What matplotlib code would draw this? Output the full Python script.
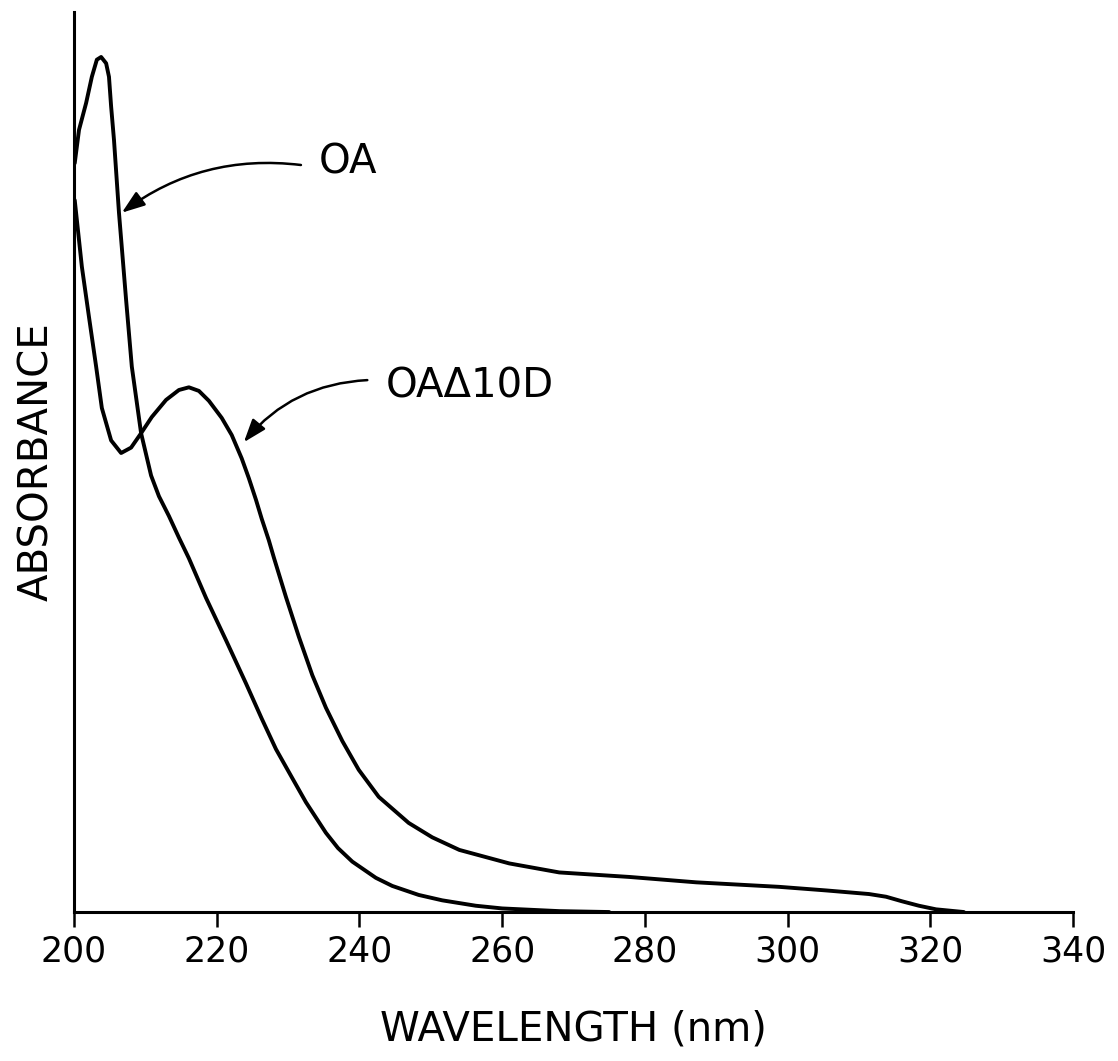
import numpy as np
import matplotlib
matplotlib.use("Agg")
import matplotlib.pyplot as plt

# wavelengths (nm) and absorbance (arbitrary units)
oa_nm = [200.1, 200.7, 201.7, 202.5, 203.2, 203.8, 204.5, 204.9, 205.2, 205.6,
         206.3, 207.3, 208.1, 209.4, 210.8, 211.9, 213.3, 214.7, 216.1, 218.5,
         221.3, 224.1, 226.3, 228.3, 230.5, 232.5, 235.3, 237.0, 239.0, 242.3,
         244.6, 248.3, 251.6, 256.3, 260.0, 268.0, 275.0]
oa_abs = [0.832, 0.869, 0.899, 0.928, 0.947, 0.950, 0.943, 0.928, 0.895, 0.858,
          0.777, 0.680, 0.606, 0.532, 0.485, 0.462, 0.440, 0.416, 0.393, 0.349,
          0.302, 0.254, 0.215, 0.181, 0.150, 0.122, 0.088, 0.071, 0.056, 0.038,
          0.029, 0.019, 0.013, 0.007, 0.004, 0.001, 0.0]

oad_nm = [200.1, 201.1, 202.1, 203.1, 203.9, 205.2, 206.6, 208.0, 209.4, 210.9,
          212.9, 214.7, 216.1, 217.5, 218.9, 220.7, 222.1, 223.5, 224.5, 225.5,
          226.3, 227.3, 228.0, 229.7, 231.5, 233.4, 235.3, 237.6, 239.9, 242.7,
          246.9, 250.2, 254.0, 261.0, 268.0, 277.8, 287.2, 298.8, 305.4, 311.4,
          313.8, 316.0, 318.4, 320.8, 324.7]
oad_abs = [0.791, 0.717, 0.661, 0.606, 0.560, 0.524, 0.510, 0.516, 0.532, 0.550,
           0.569, 0.580, 0.583, 0.579, 0.568, 0.549, 0.530, 0.504, 0.482, 0.458,
           0.437, 0.413, 0.394, 0.350, 0.306, 0.263, 0.227, 0.190, 0.158, 0.128,
           0.099, 0.083, 0.069, 0.054, 0.044, 0.039, 0.033, 0.028, 0.024, 0.020,
           0.017, 0.012, 0.007, 0.003, 0.0]

xticks = [200, 220, 240, 260, 280, 300, 320, 340]

fig = plt.figure(figsize=(11.18, 10.61), dpi=100)
ax = fig.add_axes([0.0662, 0.1404, 0.8936, 0.8483])

ax.plot(oa_nm, oa_abs, color="black", lw=2.8, solid_capstyle="round",
        solid_joinstyle="round")
ax.plot(oad_nm, oad_abs, color="black", lw=2.8, solid_capstyle="round",
        solid_joinstyle="round")

ax.set_xlim(200, 340)
ax.set_ylim(0, 1)
ax.set_xticks(xticks)
ax.set_yticks([])
ax.spines["top"].set_visible(False)
ax.spines["right"].set_visible(False)
ax.spines["left"].set_linewidth(2.2)
ax.spines["bottom"].set_linewidth(2.2)
ax.tick_params(axis="x", direction="out", length=11, width=1.8, pad=5,
               labelsize=25)

ax.set_xlabel("WAVELENGTH (nm)", fontsize=29, labelpad=30)
ax.set_ylabel("ABSORBANCE", fontsize=29, labelpad=12)

# labels with curved arrows
arrow = dict(arrowstyle="-|>,head_length=0.7,head_width=0.25",
             color="black", lw=1.8, mutation_scale=20, shrinkA=0, shrinkB=0)
ax.text(234.3, 0.821, "OA", fontsize=29, ha="left", va="baseline")
ax.annotate("", xy=(206.7, 0.777), xytext=(231.8, 0.830),
            arrowprops=dict(connectionstyle="arc3,rad=0.2", **arrow))
ax.text(243.7, 0.572, "OAΔ10D", fontsize=29, ha="left", va="baseline")
ax.annotate("", xy=(223.8, 0.522), xytext=(241.1, 0.591),
            arrowprops=dict(connectionstyle="arc3,rad=0.22", **arrow))

fig.savefig("out.png", dpi=100)
